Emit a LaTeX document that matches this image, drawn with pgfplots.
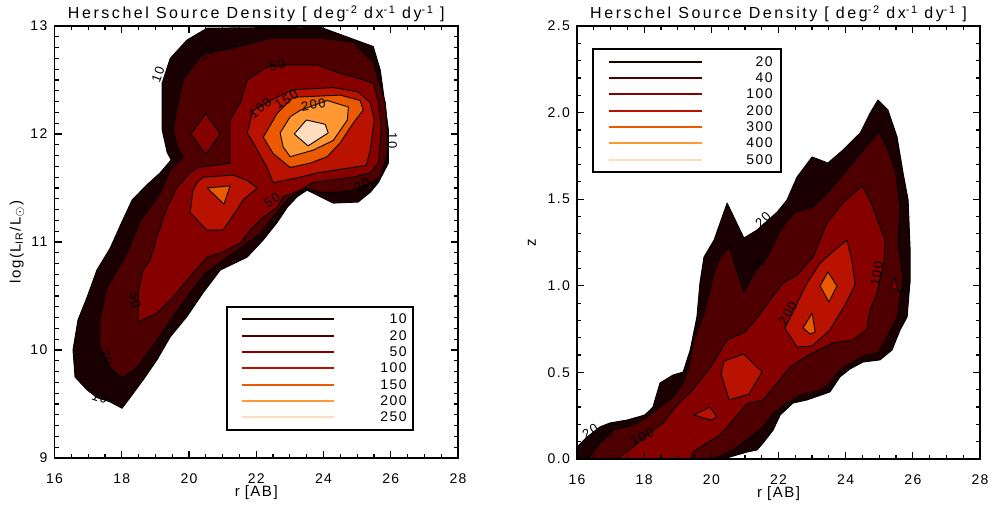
\documentclass[border=0pt]{standalone}
\usepackage{fontspec}
\setmainfont{Liberation Sans}[LetterSpace=10]
\usepackage{pgfplots}
\pgfplotsset{compat=1.18}

\definecolor{c1}{RGB}{26,0,0}
\definecolor{c2}{RGB}{78,0,0}
\definecolor{c3}{RGB}{134,0,0}
\definecolor{c4}{RGB}{185,18,0}
\definecolor{c5}{RGB}{236,90,0}
\definecolor{c6}{RGB}{255,152,50}
\definecolor{c7}{RGB}{255,220,190}

\newcommand{\tickfont}{\fontsize{7}{8.4}\selectfont}
\newcommand{\sups}[1]{\raisebox{0.55ex}{\fontsize{5.5}{6}\selectfont #1}}
\newcommand{\legrowL}[3]{%
  \draw[#1, line width=1.1pt] (rel axis cs:0.4647,#2) -- (rel axis cs:0.6927,#2);
  \node[anchor=east, inner sep=0pt, font=\tickfont] at (rel axis cs:0.8736,#2) {#3};}
\newcommand{\legrowR}[3]{%
  \draw[#1, line width=1.1pt] (rel axis cs:0.0794,#2) -- (rel axis cs:0.3102,#2);
  \node[anchor=east, inner sep=0pt, font=\tickfont] at (rel axis cs:0.4864,#2) {#3};}

\tikzset{lab/.style={font=\fontsize{6.5}{7.5}\selectfont, inner sep=0pt}}
\pgfplotsset{
  herschel/.style={
    scale only axis,
    xmin=16, xmax=28, xtick={16,18,20,22,24,26,28}, minor x tick num=3,
    axis on top,
    axis line style={line width=0.8pt},
    every tick/.append style={black, line width=0.6pt},
    major tick length=3.5pt, minor tick length=2pt,
    tick label style={font=\tickfont},
    /pgf/number format/assume math mode=true,
    xticklabel style={yshift=-4.5pt},
    label style={font=\fontsize{7.5}{9}\selectfont},
    xlabel={r\,\,[AB]},
    xlabel style={at={(axis description cs:0.5,-0.079)}, anchor=center},
    title={\addfontfeature{LetterSpace=16}Herschel Source Density [ deg\sups{-2} dx\sups{-1} dy\sups{-1} ]},
    title style={at={(axis description cs:0.5,1.001)}, anchor=center, font=\fontsize{8}{9.6}\selectfont},
  },
  cnt/.style={fill=#1, draw=black, line width=0.45pt, mark=none, line join=round},
}

\begin{document}
\begin{tikzpicture}
\useasboundingbox (0,0) rectangle (497pt,254pt);

\begin{axis}[herschel, at={(27.25pt,25pt)}, anchor=south west,
  width=201.75pt, height=216pt,
  ymin=9, ymax=13, ytick={9,10,11,12,13}, minor y tick num=9,
  ylabel={log(L\textsubscript{IR}/L\textsubscript{$\odot$})},
  ylabel style={at={(axis description cs:-0.093,0.5)}, anchor=center}]

\addplot[cnt=c1] coordinates {(18.01,9.46) (17.65,9.52) (17.26,9.56) (16.97,9.63) (16.61,9.75) (16.55,10.00) (16.70,10.28) (16.97,10.49) (17.26,10.74) (17.65,10.94) (18.01,11.19) (18.31,11.39) (18.75,11.53) (19.14,11.64) (19.47,11.76) (19.35,11.83) (19.20,12.04) (19.20,12.47) (19.44,12.70) (19.94,12.87) (20.54,12.98) (23.90,12.99) (25.48,12.81) (25.69,12.59) (25.93,12.04) (25.93,11.73) (25.63,11.55) (25.39,11.46) (25.03,11.37) (24.29,11.36) (23.90,11.42) (23.51,11.48) (23.22,11.42) (22.92,11.32) (22.62,11.18) (22.21,11.02) (21.73,10.86) (20.93,10.74) (20.42,10.53) (19.94,10.31) (19.44,10.12) (19.05,9.91) (18.63,9.72) (18.25,9.56) (18.01,9.46)};

\addplot[cnt=c2] coordinates {(18.01,9.74) (17.65,9.84) (17.35,10.03) (17.35,10.28) (17.56,10.58) (18.16,10.90) (18.54,11.19) (19.14,11.45) (19.44,11.67) (19.82,11.79) (19.65,11.88) (19.53,12.04) (19.65,12.25) (19.82,12.50) (20.42,12.75) (21.13,12.78) (21.82,12.84) (22.50,12.89) (23.90,12.89) (24.88,12.85) (25.48,12.66) (25.69,12.44) (25.84,12.29) (25.90,12.04) (25.90,11.82) (25.69,11.60) (25.39,11.55) (24.88,11.48) (24.29,11.46) (23.90,11.46) (23.51,11.50) (23.22,11.46) (22.92,11.39) (22.50,11.23) (22.12,11.08) (21.82,11.01) (21.37,10.91) (20.93,10.81) (20.48,10.71) (20.03,10.53) (19.53,10.31) (19.05,10.09) (18.46,9.84) (18.01,9.74)};

\addplot[cnt=c3] coordinates {(18.49,10.26) (18.49,10.53) (18.63,10.74) (18.84,10.83) (19.05,11.05) (19.35,11.32) (19.65,11.51) (20.03,11.64) (20.24,11.69) (21.22,11.73) (21.22,11.85) (21.22,12.13) (21.52,12.29) (21.73,12.50) (22.32,12.62) (23.01,12.64) (23.81,12.64) (24.50,12.56) (25.00,12.52) (25.48,12.47) (25.63,12.29) (25.72,12.04) (25.63,11.73) (25.39,11.64) (24.88,11.60) (24.11,11.57) (23.69,11.55) (23.31,11.48) (22.80,11.42) (22.62,11.32) (22.21,11.23) (21.82,11.11) (21.52,10.99) (21.01,10.91) (20.54,10.86) (20.03,10.68) (19.53,10.49) (19.05,10.34) (18.49,10.26)};

\addplot[cnt=c3] coordinates {(20.06,12.00) (20.50,12.19) (20.93,12.00) (20.50,11.81) (20.06,12.00)};

\addplot[cnt=c4] coordinates {(21.73,12.01) (21.91,12.22) (22.62,12.34) (23.10,12.41) (24.29,12.43) (25.03,12.39) (25.39,12.29) (25.51,12.13) (25.39,11.85) (25.27,11.71) (23.81,11.64) (23.31,11.60) (22.50,11.55) (22.32,11.69) (21.91,11.92) (21.73,12.01)};

\addplot[cnt=c4] coordinates {(20.24,11.55) (20.42,11.60) (21.31,11.62) (21.73,11.57) (22.03,11.50) (21.61,11.39) (21.43,11.30) (21.01,11.11) (20.54,11.11) (20.03,11.27) (20.12,11.48) (20.24,11.55)};

\addplot[cnt=c5] coordinates {(20.54,11.50) (21.22,11.52) (21.04,11.35) (20.54,11.50)};

\addplot[cnt=c5] coordinates {(22.21,11.97) (22.62,12.19) (23.10,12.34) (24.50,12.36) (25.09,12.31) (25.18,12.22) (24.88,12.10) (24.50,11.92) (24.11,11.79) (23.60,11.73) (23.01,11.69) (22.50,11.82) (22.21,11.97)};

\addplot[cnt=c6] coordinates {(22.71,12.01) (23.01,12.16) (23.31,12.22) (24.11,12.31) (24.74,12.25) (24.71,12.13) (24.29,11.94) (23.69,11.85) (23.01,11.79) (22.80,11.88) (22.71,12.01)};

\addplot[cnt=c7] coordinates {(23.13,12.00) (23.49,12.13) (24.05,12.09) (24.14,12.01) (23.54,11.89) (23.13,12.00)};

\node[lab, rotate=70] at (axis cs:19.08,12.55) {10};
\node[lab, rotate=35] at (axis cs:20.54,12.75) {20};
\node[lab, rotate=15] at (axis cs:22.62,12.64) {50};
\node[lab, rotate=40] at (axis cs:22.12,12.24) {100};
\node[lab, rotate=30] at (axis cs:22.90,12.32) {150};
\node[lab, rotate=10] at (axis cs:23.70,12.27) {200};
\node[lab, rotate=-90] at (axis cs:26.05,11.94) {10};
\node[lab, rotate=30] at (axis cs:25.15,11.53) {20};
\node[lab, rotate=35] at (axis cs:22.47,11.39) {50};
\node[lab, rotate=-80] at (axis cs:18.40,10.46) {50};
\node[lab, rotate=-70] at (axis cs:17.56,9.93) {20};
\node[lab, rotate=-20] at (axis cs:17.35,9.56) {10};

\draw[black, line width=0.6pt, fill=white] (rel axis cs:0.4275,0.0648) rectangle (rel axis cs:0.8885,0.3495);
\legrowL{c1}{0.3218}{10}
\legrowL{c2}{0.2824}{20}
\legrowL{c3}{0.2454}{50}
\legrowL{c4}{0.2083}{100}
\legrowL{c5}{0.1690}{150}
\legrowL{c6}{0.1320}{200}
\legrowL{c7}{0.0949}{250}
\end{axis}

\begin{axis}[herschel, at={(288.5pt,24.5pt)}, anchor=south west,
  width=201.5pt, height=216.5pt,
  ymin=0, ymax=2.5, ytick={0,0.5,1,1.5,2,2.5}, minor y tick num=4,
  yticklabel style={/pgf/number format/fixed, /pgf/number format/fixed zerofill, /pgf/number format/precision=1},
  ylabel={z},
  ylabel style={at={(axis description cs:-0.112,0.5)}, anchor=center}]

\addplot[cnt=c1] coordinates {(16.00,0.00) (16.00,0.069) (16.30,0.127) (16.68,0.185) (16.98,0.208) (17.49,0.225) (18.02,0.254) (18.26,0.300) (18.47,0.439) (18.86,0.485) (19.16,0.502) (19.37,0.629) (19.57,0.820) (19.66,1.016) (19.78,1.166) (20.08,1.264) (20.47,1.478) (20.97,1.276) (21.36,1.322) (21.96,1.426) (22.25,1.495) (22.55,1.628) (23.00,1.744) (23.47,1.709) (23.92,1.784) (24.43,1.882) (24.73,1.998) (24.96,2.073) (25.26,2.015) (25.53,1.859) (25.71,1.651) (25.86,1.495) (25.92,1.207) (25.92,1.033) (25.83,0.820) (25.62,0.745) (25.38,0.629) (25.02,0.572) (24.52,0.560) (24.13,0.520) (23.83,0.474) (23.53,0.387) (22.85,0.341) (22.43,0.323) (22.05,0.254) (21.84,0.167) (21.54,0.092) (21.36,0.052) (21.06,0.040) (20.56,0.012) (20.41,0.00) (16.00,0.00)};

\addplot[cnt=c2] coordinates {(16.33,0.00) (16.68,0.092) (17.07,0.167) (17.67,0.196) (18.08,0.242) (18.47,0.300) (18.86,0.358) (19.16,0.439) (19.31,0.514) (19.48,0.687) (19.78,0.843) (20.08,1.074) (20.26,1.166) (20.53,1.224) (20.97,0.964) (21.36,1.103) (21.66,1.166) (22.05,1.322) (22.49,1.426) (23.03,1.455) (23.53,1.553) (24.04,1.669) (24.52,1.784) (24.99,1.888) (25.26,1.784) (25.47,1.669) (25.62,1.455) (25.56,1.247) (25.71,1.033) (25.53,0.820) (25.23,0.704) (24.96,0.612) (24.58,0.600) (24.22,0.560) (23.83,0.514) (23.53,0.439) (23.24,0.398) (22.64,0.370) (22.25,0.323) (21.84,0.266) (21.54,0.185) (21.06,0.110) (20.65,0.052) (20.05,0.00) (16.33,0.00)};

\addplot[cnt=c3] coordinates {(17.19,0.00) (17.67,0.069) (18.17,0.150) (18.56,0.208) (18.98,0.312) (19.42,0.393) (19.96,0.525) (20.47,0.687) (21.00,0.733) (21.36,0.814) (21.75,0.918) (22.13,1.016) (22.55,1.062) (23.03,1.166) (23.44,1.363) (23.92,1.478) (24.49,1.576) (24.76,1.478) (25.17,1.264) (25.14,1.137) (24.93,0.958) (24.73,0.860) (24.61,0.745) (24.22,0.687) (23.62,0.670) (22.85,0.595) (22.34,0.531) (21.96,0.439) (21.54,0.341) (21.06,0.318) (20.65,0.225) (20.26,0.139) (19.87,0.092) (19.45,0.040) (19.37,0.00) (17.19,0.00)};

\addplot[cnt=c3] coordinates {(25.45,1.05) (25.56,0.97) (25.36,0.99) (25.45,1.05)};

\addplot[cnt=c4] coordinates {(22.19,0.756) (22.49,0.872) (22.85,1.016) (23.24,1.132) (23.68,1.207) (24.04,1.264) (24.19,1.137) (24.28,1.005) (23.98,0.889) (23.53,0.745) (23.00,0.652) (22.55,0.647) (22.19,0.756)};

\addplot[cnt=c4] coordinates {(20.38,0.566) (20.97,0.606) (21.51,0.502) (21.12,0.375) (20.53,0.341) (20.29,0.491) (20.38,0.566)};

\addplot[cnt=c4] coordinates {(19.48,0.254) (19.96,0.300) (20.17,0.242) (19.99,0.225) (19.48,0.254)};

\addplot[cnt=c5] coordinates {(23.47,1.080) (23.74,0.999) (23.50,0.906) (23.24,0.999) (23.47,1.080)};

\addplot[cnt=c5] coordinates {(23.00,0.843) (23.09,0.733) (22.94,0.722) (22.73,0.756) (23.00,0.843)};

\node[lab, rotate=45] at (axis cs:21.54,1.38) {20};
\node[lab, rotate=50] at (axis cs:21.39,1.12) {40};
\node[lab, rotate=80] at (axis cs:24.93,1.07) {100};
\node[lab, rotate=60] at (axis cs:22.28,0.84) {200};
\node[lab, rotate=80] at (axis cs:25.77,0.99) {20};
\node[lab, rotate=30] at (axis cs:16.39,0.16) {20};
\node[lab, rotate=35] at (axis cs:16.83,0.13) {40};
\node[lab, rotate=25] at (axis cs:17.94,0.13) {100};

\draw[black, line width=0.6pt, fill=white] (rel axis cs:0.0397,0.6628) rectangle (rel axis cs:0.5062,0.9469);
\legrowR{c1}{0.9169}{20}
\legrowR{c2}{0.8799}{40}
\legrowR{c3}{0.8430}{100}
\legrowR{c4}{0.8037}{200}
\legrowR{c5}{0.7667}{300}
\legrowR{c6}{0.7298}{400}
\legrowR{c7}{0.6905}{500}
\end{axis}
\end{tikzpicture}
\end{document}
